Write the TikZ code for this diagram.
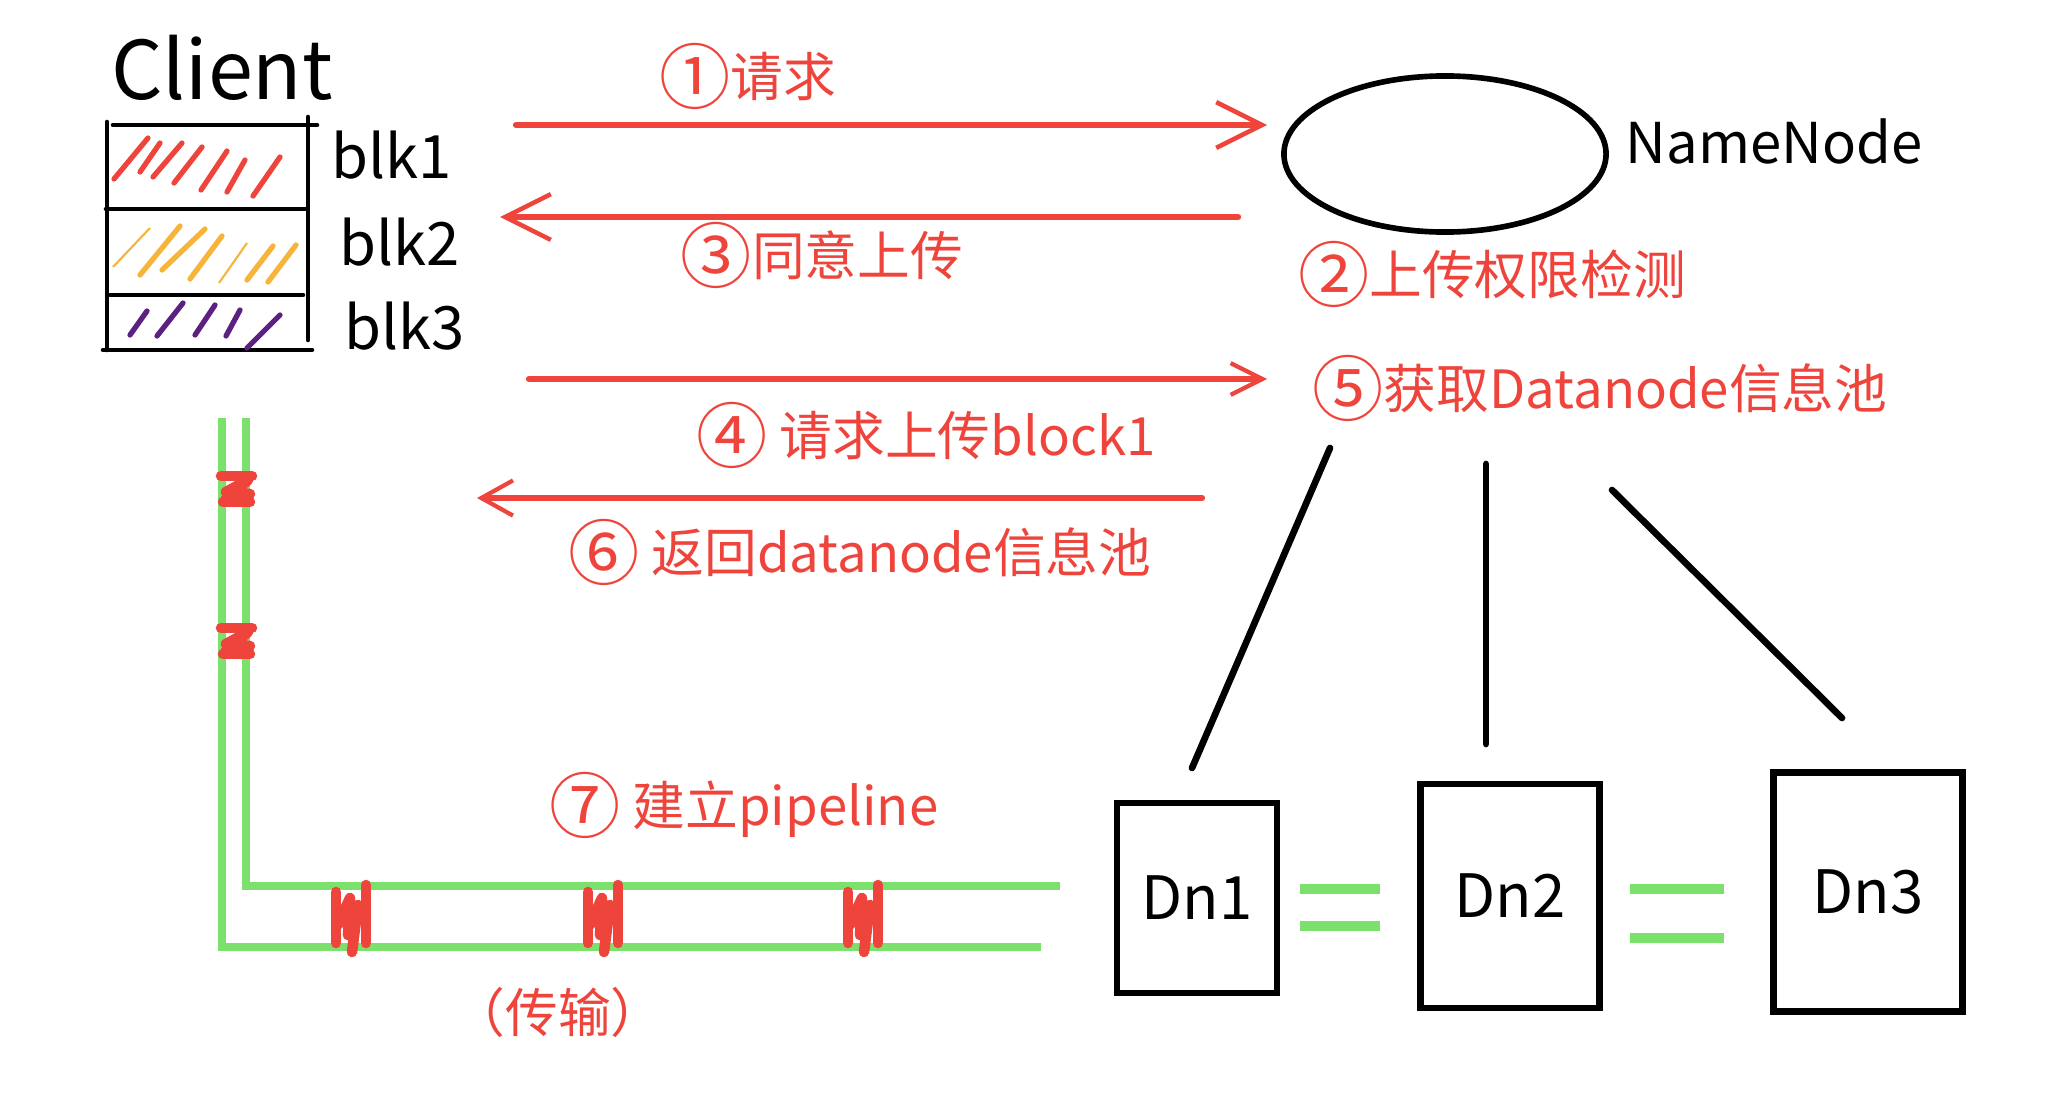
\documentclass[tikz,border=0pt]{standalone}
\usepackage{fontspec}
\usepackage{graphicx}
\setmainfont{Noto Sans CJK SC}
\usetikzlibrary{arrows.meta,shapes.geometric}
\definecolor{penred}{RGB}{238,68,60}
\definecolor{pengreen}{RGB}{124,224,108}
\definecolor{penorange}{RGB}{247,180,58}
\definecolor{penpurple}{RGB}{92,32,128}
\newcommand{\cnum}[1]{\raisebox{-0.12em}{\scalebox{1.35}{#1}}}
\tikzset{msg/.style = {draw=penred, line width=1.8pt, line cap=round, -{Straight Barb[length=13pt,width=13pt,line width=1.3pt]}}}
\tikzset{note/.style = {text=penred, font=\fontsize{15}{18}\selectfont, inner sep=0pt}}
\tikzset{dnbox/.style = {shape=rectangle, draw, line width=1.9pt, inner sep=0pt, outer sep=0pt, font=\fontsize{17}{20}\selectfont}}
\tikzset{link/.style = {line width=1.9pt, line cap=round}}
\tikzset{pipe/.style = {draw=pengreen, line width=2pt}}
\tikzset{packet/.style = {draw=penred, line width=3pt, line cap=round, line join=round}}
\tikzset{hatch/.style = {line width=1.5pt, line cap=round}}

\begin{document}
\begin{tikzpicture}[x=0.01cm, y=-0.01cm]
  \useasboundingbox (0,0) rectangle (2048,1112);

  % client and its blocks
  \node[font=\fontsize{23}{27}\selectfont, inner sep=0pt] (client) at (222,68) {Client};
  \draw[line width=1.3pt, line cap=round] (107,122) -- (107,350);
  \draw[line width=1.3pt, line cap=round] (308,117) -- (308,340);
  \draw[line width=1.3pt, line cap=round] (113,125) -- (317,125);
  \draw[line width=1.3pt, line cap=round] (106,209) -- (307,209);
  \draw[line width=1.3pt, line cap=round] (110,295) -- (303,295);
  \draw[line width=1.3pt, line cap=round] (103,350) -- (312,350);
  \foreach \a/\b/\c/\d in {114/179/148/138, 140/172/160/143, 153/177/182/143, 174/183/202/147,
                          201/190/227/151, 227/192/245/160, 253/196/280/157}
    \draw[hatch, penred] (\a,\b) -- (\c,\d);
  \foreach \a/\b/\c/\d in {140/275/180/226, 162/270/205/229, 190/279/222/236, 247/280/273/246, 268/282/296/245}
    \draw[hatch, penorange] (\a,\b) -- (\c,\d);
  \draw[penorange, line width=0.6pt] (113,267) -- (150,228);
  \draw[penorange, line width=0.6pt] (219,283) -- (247,243);
  \foreach \a/\b/\c/\d in {130/335/147/311, 157/336/183/303, 195/335/215/305, 226/336/240/310, 247/348/280/315}
    \draw[hatch, penpurple] (\a,\b) -- (\c,\d);
  \node[font=\fontsize{17}{20}\selectfont, inner sep=0pt] (blk1) at (392,155) {blk1};
  \node[font=\fontsize{17}{20}\selectfont, inner sep=0pt] (blk2) at (400,242) {blk2};
  \node[font=\fontsize{17}{20}\selectfont, inner sep=0pt] (blk3) at (405,326) {blk3};

  % namenode
  \node[ellipse, draw, line width=1.6pt, minimum width=3.22cm, minimum height=1.56cm] (nn) at (1445,154) {};
  \node[font=\fontsize{16}{19}\selectfont, inner sep=0pt] (nnlabel) at (1774,141) {NameNode};

  % messages
  \coordinate (m1s) at (516,125);  \coordinate (m1e) at (1267,125);
  \coordinate (m3s) at (1238,217); \coordinate (m3e) at (500,217);
  \coordinate (m4s) at (529,379);  \coordinate (m4e) at (1267,379);
  \coordinate (m6s) at (1202,498); \coordinate (m6e) at (477,498);
  \draw[msg] (m1s) -- (m1e);
  \draw[msg] (m3s) -- (m3e);
  \draw[msg, -{Straight Barb[length=9pt,width=9pt,line width=1.2pt]}] (m4s) -- (m4e);
  \draw[msg, -{Straight Barb[length=9pt,width=10pt,line width=1.2pt]}] (m6s) -- (m6e);
  \node[note] (n1) at (748,76) {\cnum{①}请求};
  \node[note] (n3) at (822,255) {\cnum{③}同意上传};
  \node[note] (n2) at (1492,274) {\cnum{②}上传权限检测};
  \node[note] (n4) at (926,435) {\cnum{④} 请求上传block1};
  \node[note] (n5) at (1600,388) {\cnum{⑤}获取Datanode信息池};
  \node[note] (n6) at (860,552) {\cnum{⑥} 返回datanode信息池};
  \node[note] (n7) at (744,805) {\cnum{⑦} 建立pipeline};
  \node[note] (n8) at (558,1012) {（传输）};

  % datanodes
  \node[dnbox, minimum width=1.60cm, minimum height=1.90cm] (dn1) at (1197,898) {Dn1};
  \node[dnbox, minimum width=1.79cm, minimum height=2.24cm] (dn2) at (1510,896) {Dn2};
  \node[dnbox, minimum width=1.89cm, minimum height=2.39cm] (dn3) at (1868,892) {Dn3};
  \coordinate (l1s) at (1330,448); \coordinate (l1e) at (1192,768);
  \coordinate (l2s) at (1486,464); \coordinate (l2e) at (1486,744);
  \coordinate (l3s) at (1612,490); \coordinate (l3e) at (1842,718);
  \draw[link] (l1s) -- (l1e);
  \draw[link] (l2s) -- (l2e);
  \draw[link] (l3s) -- (l3e);
  \draw[pipe, line width=3pt] (1300,889) -- (1380,889);
  \draw[pipe, line width=3pt] (1300,926) -- (1380,926);
  \draw[pipe, line width=3pt] (1630,889) -- (1724,889);
  \draw[pipe, line width=3pt] (1630,938) -- (1724,938);

  % pipeline
  \draw[pipe] (222,418) -- (222,947) -- (1041,947);
  \draw[pipe] (246,418) -- (246,886) -- (1060,886);
  \foreach \py in {490,642} {
    \draw[packet] (221,\py-14) -- (252,\py-14);
    \draw[packet] (223,\py+12) -- (250,\py+12);
    \draw[packet] (225,\py+10) -- (248,\py-10) -- (226,\py+2) -- (250,\py+4);
  }
  \foreach \px in {352,604,864} {
    \draw[packet] (\px-16,892) -- (\px-16,943);
    \draw[packet] (\px+14,885) -- (\px+14,943);
    \draw[packet] (\px-14,925) -- (\px-2,898) -- (\px-4,935) -- (\px+6,905) -- (\px,952);
  }
\end{tikzpicture}
\end{document}
